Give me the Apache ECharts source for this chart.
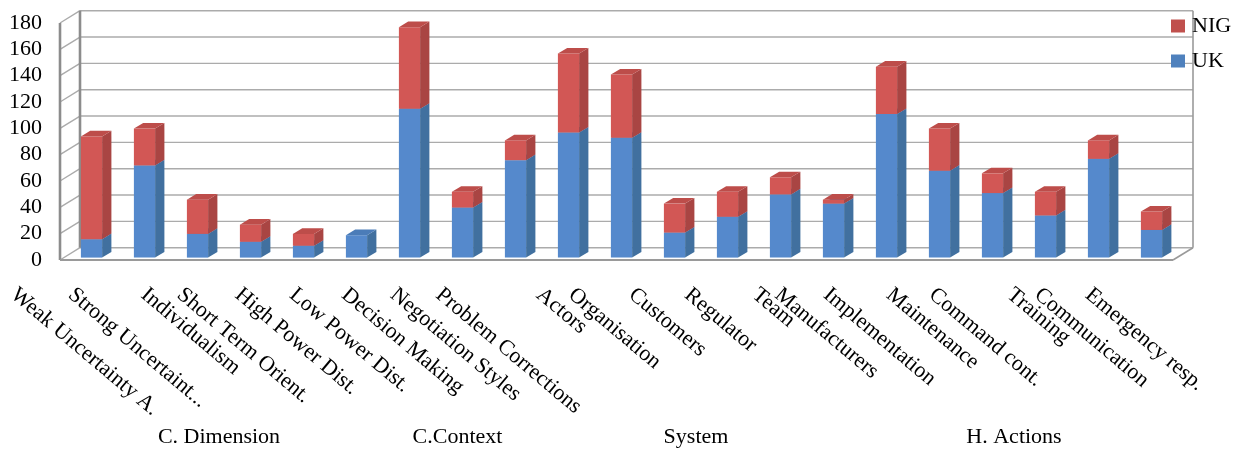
<!DOCTYPE html>
<html>
<head>
<meta charset="utf-8">
<script src="https://cdn.jsdelivr.net/npm/echarts@6/dist/echarts.min.js"></script>
<style>
  html, body { margin: 0; padding: 0; background: #ffffff; }
  #chart { width: 1239px; height: 449px; }
</style>
</head>
<body>
<div id="chart"></div>
<script>
// Categories along the floor of the box
const categories = [
  'Weak Uncertainty A.', 'Strong Uncertaint...', 'Individualism', 'Short Term Orient.',
  'High Power Dist.', 'Low Power Dist.', 'Decision Making', 'Negotiation Styles',
  'Problem Corrections', 'Actors', 'Organisation', 'Customers', 'Regulator', 'Team',
  'Manufacturers', 'Implementation', 'Maintenance', 'Command cont.', 'Training',
  'Communication', 'Emergency resp.'
];

// Stacked series (UK at the bottom, NIG on top)
const ukValues  = [14, 70, 18, 12, 9, 17, 113, 38, 74, 95, 91, 19, 31, 48, 41, 109, 66, 49, 32, 75, 21];
const nigValues = [78, 28, 26, 13, 9, 0, 62, 12, 15, 60, 48, 22, 19, 13, 3, 36, 32, 15, 18, 14, 14];

// Second-level category groups (first and last category index)
const groupNames = ['C. Dimension', 'C.Context', 'System', 'H. Actions'];
const groupFirst = [0, 6, 9, 15];
const groupLast  = [5, 8, 14, 20];

// Value axis range
const yMin = 0, yMax = 180, yStep = 20;

// ---- layout / style ----
const FONT = '"Liberation Serif", "Times New Roman", serif';
const FS = 22;
const WALL = [20, -12.3];        // front plane -> back wall offset
const BAR_SHIFT = [5, -2.4];     // bar front face offset from front plane
const BAR_DEPTH = [9.3, -5.6];   // bar depth vector
const LABEL_TOP = 285;
const LABEL_ANGLE = 40 * Math.PI / 180;

const COLORS = {
  UK:  { front: '#5589cc', side: '#41709f', top: '#4b7cb8', legend: '#4f81bd' },
  NIG: { front: '#d25755', side: '#a94543', top: '#bd4d4a', legend: '#c0504d' }
};

const measureCtx = document.createElement('canvas').getContext('2d');
measureCtx.font = FS + 'px ' + FONT;

function line(a, b, stroke, width) {
  return {
    type: 'line',
    shape: { x1: a[0], y1: a[1], x2: b[0], y2: b[1] },
    style: { stroke: stroke, lineWidth: width },
    silent: true
  };
}

// Box: back wall grid, left wall, floor
function renderFrame(params, api) {
  const cs = params.coordSys;
  const x0 = cs.x, x1 = cs.x + cs.width;
  const children = [];
  const gridColor = '#ababab';
  for (let v = yMin; v <= yMax; v += yStep) {
    const y = api.coord([0, v])[1];
    children.push(line([x0 + WALL[0], y + WALL[1]], [x1 + WALL[0], y + WALL[1]], gridColor, 1.4));
    children.push(line([x0, y], [x0 + WALL[0], y + WALL[1]], gridColor, 1.4));
  }
  const yb = api.coord([0, yMin])[1];
  const yt = api.coord([0, yMax])[1];
  children.push(line([x1 + WALL[0], yb + WALL[1]], [x1 + WALL[0], yt + WALL[1]], '#9a9a9a', 1.6));
  children.push(line([x0 + WALL[0], yb + WALL[1]], [x0 + WALL[0], yt + WALL[1]], '#8c8c8c', 2.6));
  children.push(line([x0, yb], [x0, yt], '#8c8c8c', 2.6));
  children.push(line([x0, yb], [x1, yb], '#9a9a9a', 2));
  children.push(line([x1, yb], [x1 + WALL[0], yb + WALL[1]], '#9a9a9a', 1.6));
  return { type: 'group', children: children };
}

// One 3D block per category for a stacked segment
function blockRenderer(colors) {
  return function (params, api) {
    const i = api.value(0), lo = api.value(1), hi = api.value(2);
    if (!(hi > lo)) return null;
    const pLo = api.coord([i, lo]);
    const pHi = api.coord([i, hi]);
    const w = api.size([1, 0])[0] * 0.4;
    const xa = pLo[0] - w / 2 + BAR_SHIFT[0];
    const xb = xa + w;
    const yb = pLo[1] + BAR_SHIFT[1];
    const yt = pHi[1] + BAR_SHIFT[1];
    const dx = BAR_DEPTH[0], dy = BAR_DEPTH[1];
    return {
      type: 'group',
      children: [
        { type: 'rect', shape: { x: xa, y: yt, width: w, height: yb - yt },
          style: { fill: colors.front } },
        { type: 'polygon', shape: { points: [[xb, yb], [xb, yt], [xb + dx, yt + dy], [xb + dx, yb + dy]] },
          style: { fill: colors.side } },
        { type: 'polygon', shape: { points: [[xa, yt], [xb, yt], [xb + dx, yt + dy], [xa + dx, yt + dy]] },
          style: { fill: colors.top } }
      ]
    };
  };
}

// Rotated category labels, top-aligned under the floor
function renderCategoryLabel(params, api) {
  const i = api.value(0);
  const text = categories[i];
  const w = measureCtx.measureText(text).width;
  const h = FS * 0.85;
  const cx = api.coord([i, 0])[0] - 2;
  const cy = LABEL_TOP + (w * Math.sin(LABEL_ANGLE) + h * Math.cos(LABEL_ANGLE)) / 2;
  return {
    type: 'text',
    x: cx, y: cy,
    rotation: -LABEL_ANGLE,
    style: {
      text: text, fill: '#000', fontSize: FS, fontFamily: FONT,
      align: 'center', verticalAlign: 'middle'
    },
    silent: true
  };
}

// Group labels centred under their categories
function renderGroupLabel(params, api) {
  const g = api.value(0);
  const xa = api.coord([groupFirst[g], 0])[0];
  const xb = api.coord([groupLast[g], 0])[0];
  return {
    type: 'text',
    x: (xa + xb) / 2, y: 437,
    style: {
      text: groupNames[g], fill: '#000', fontSize: FS, fontFamily: FONT,
      align: 'center', verticalAlign: 'middle'
    },
    silent: true
  };
}

const ukData = categories.map((c, i) => [i, 0, ukValues[i]]);
const nigData = categories.map((c, i) => [i, ukValues[i], ukValues[i] + nigValues[i]]);

const chart = echarts.init(document.getElementById('chart'), null, { renderer: 'canvas' });
chart.setOption({
  animation: false,
  backgroundColor: '#ffffff',
  textStyle: { fontFamily: FONT },
  grid: { left: 60, right: 66, top: 23, bottom: 189, containLabel: false },
  xAxis: {
    type: 'category',
    data: categories,
    axisLine: { show: false },
    axisTick: { show: false },
    axisLabel: { show: false },
    splitLine: { show: false }
  },
  yAxis: {
    type: 'value',
    min: yMin, max: yMax, interval: yStep,
    axisLine: { show: false },
    axisTick: { show: false },
    splitLine: { show: false },
    axisLabel: { color: '#000', fontSize: FS, fontFamily: FONT, margin: 18 }
  },
  legend: {
    orient: 'vertical',
    left: 1166, top: 10,
    data: ['NIG', 'UK'],
    icon: 'rect',
    itemWidth: 14, itemHeight: 13,
    itemGap: 13,
    textStyle: { color: '#000', fontSize: FS, fontFamily: FONT, lineHeight: 22, padding: [0, 0, 0, 2] },
    selectedMode: false
  },
  series: [
    {
      type: 'custom', name: 'frame', silent: true, z: 1,
      data: [[0, 0]],
      renderItem: renderFrame
    },
    {
      type: 'custom', name: 'UK', z: 2,
      itemStyle: { color: COLORS.UK.legend },
      encode: { x: 0, y: [1, 2] },
      data: ukData,
      renderItem: blockRenderer(COLORS.UK)
    },
    {
      type: 'custom', name: 'NIG', z: 3,
      itemStyle: { color: COLORS.NIG.legend },
      encode: { x: 0, y: [1, 2] },
      data: nigData,
      renderItem: blockRenderer(COLORS.NIG)
    },
    {
      type: 'custom', name: 'categoryLabels', silent: true, z: 4,
      data: categories.map((c, i) => [i, 0]),
      renderItem: renderCategoryLabel
    },
    {
      type: 'custom', name: 'groupLabels', silent: true, z: 4,
      data: groupNames.map((g, i) => [i, 0]),
      renderItem: renderGroupLabel
    }
  ]
});
</script>
</body>
</html>
